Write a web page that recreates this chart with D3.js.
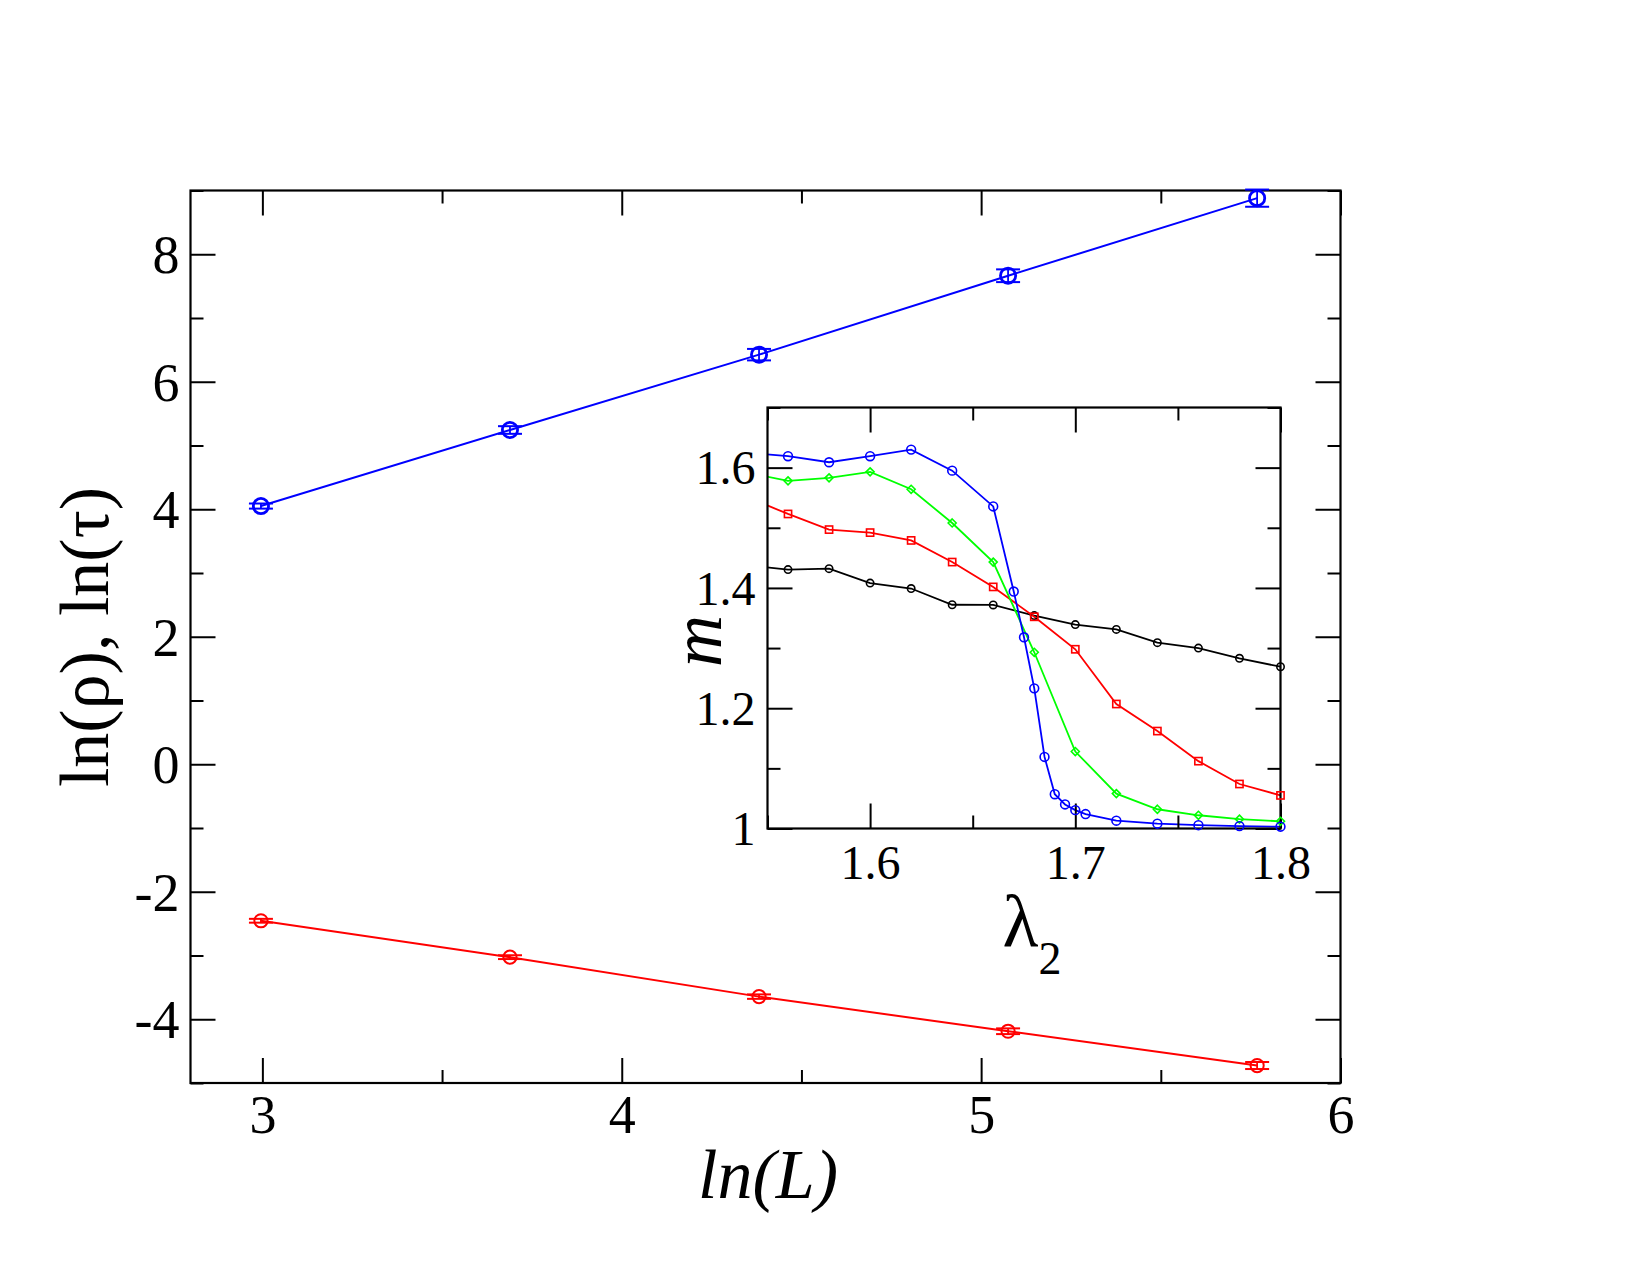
<!DOCTYPE html>
<html>
<head>
<meta charset="utf-8">
<script src="https://cdn.jsdelivr.net/npm/d3@7"></script>
<style>
  html, body { margin: 0; padding: 0; background: #fff; }
  svg { display: block; }
  text { font-family: "Liberation Serif", "Times New Roman", serif; fill: #000; }
</style>
</head>
<body>
<div id="chart"></div>
<script>
// ---------------- data: main panel ----------------
const lnL = [2.996, 3.689, 4.382, 5.075, 5.768];
const lnTau = [4.05, 5.243, 6.425, 7.663, 8.88];
const lnTauErr = [0.04, 0.06, 0.09, 0.10, 0.135];
const lnRho = [-2.455, -3.026, -3.645, -4.188, -4.726];
const lnRhoErr = [0.03, 0.03, 0.035, 0.045, 0.055];
const mainXTicks = [3, 4, 5, 6];
const mainXMinor = [3.5, 4.5, 5.5];
const mainYTicks = [-4, -2, 0, 2, 4, 6, 8];
const mainYMinor = [-5, -3, -1, 1, 3, 5, 7, 9];

// ---------------- data: inset ----------------
const lambdaGrid = [1.54, 1.56, 1.58, 1.60, 1.62, 1.64, 1.66, 1.68, 1.70, 1.72, 1.74, 1.76, 1.78, 1.80];
const mBlack = [1.4375, 1.4305, 1.432, 1.408, 1.399, 1.372, 1.3717, 1.354, 1.339, 1.331, 1.309, 1.300, 1.283, 1.269];
const mRed = [1.551, 1.523, 1.497, 1.492, 1.479, 1.443, 1.4017, 1.352, 1.298, 1.207, 1.162, 1.112, 1.074, 1.055];
const mGreen = [1.592, 1.578, 1.583, 1.593, 1.564, 1.508, 1.443, 1.293, 1.128, 1.058, 1.032, 1.022, 1.0155, 1.012];
const lambdaBlue = [1.54, 1.56, 1.58, 1.60, 1.62, 1.64, 1.66, 1.67, 1.675, 1.68, 1.685, 1.69, 1.695, 1.70, 1.705, 1.72, 1.74, 1.76, 1.78, 1.80];
const mBlue = [1.625, 1.619, 1.609, 1.619, 1.630, 1.595, 1.5355, 1.394, 1.318, 1.233, 1.119, 1.057, 1.040, 1.0305, 1.024, 1.013, 1.008, 1.0055, 1.004, 1.003];
const insetXTicks = [1.6, 1.7, 1.8];
const insetXMinor = [1.55, 1.65, 1.75];
const insetYTicks = [1.0, 1.2, 1.4, 1.6];
const insetYMinor = [1.1, 1.3, 1.5, 1.7];

// ---------------- layout ----------------
const W = 1650, H = 1275;
const M = { left: 190.5, right: 1340.5, top: 190.5, bottom: 1083 };
const I = { left: 767.5, right: 1280.5, top: 407.5, bottom: 828.5 };

const svg = d3.select("#chart").append("svg").attr("width", W).attr("height", H);
svg.append("rect").attr("width", W).attr("height", H).attr("fill", "#fff");

const x = d3.scaleLinear().domain([2.8, 6]).range([M.left, M.right]);
const y = d3.scaleLinear().domain([-5, 9]).range([M.bottom, M.top]);
const xi = d3.scaleLinear().domain([1.55, 1.8]).range([I.left, I.right]);
const yi = d3.scaleLinear().domain([1.0, 1.7]).range([I.bottom, I.top]);

const fmtMain = d => String(d);
const fmtInset = d => (d === 1 ? "1" : d3.format(".1f")(d));

function styleAxis(g) {
  g.select(".domain").remove();
  g.selectAll(".tick line").attr("stroke", "#000").attr("stroke-width", 2);
}

function drawAxes(root, xs, ys, box, opt) {
  const gb = root.append("g").attr("transform", `translate(0,${box.bottom})`)
    .call(d3.axisBottom(xs).tickValues(opt.xMajor).tickSize(-opt.major).tickFormat(opt.fmt));
  styleAxis(gb);
  gb.selectAll(".tick text").attr("font-size", opt.fs).attr("dy", null).attr("y", opt.xLabelY).attr("fill", "#000");
  const gbm = root.append("g").attr("transform", `translate(0,${box.bottom})`)
    .call(d3.axisBottom(xs).tickValues(opt.xMinor).tickSize(-opt.minor).tickFormat(""));
  styleAxis(gbm);
  const gt = root.append("g").attr("transform", `translate(0,${box.top})`)
    .call(d3.axisTop(xs).tickValues(opt.xMajor).tickSize(-opt.major).tickFormat(""));
  styleAxis(gt);
  const gtm = root.append("g").attr("transform", `translate(0,${box.top})`)
    .call(d3.axisTop(xs).tickValues(opt.xMinor).tickSize(-opt.minor).tickFormat(""));
  styleAxis(gtm);
  const gl = root.append("g").attr("transform", `translate(${box.left},0)`)
    .call(d3.axisLeft(ys).tickValues(opt.yMajor).tickSize(-opt.major).tickFormat(opt.fmt));
  styleAxis(gl);
  gl.selectAll(".tick text").attr("font-size", opt.fs).attr("x", -opt.yLabelGap).attr("dy", "0.34em")
    .attr("text-anchor", "end").attr("fill", "#000");
  const glm = root.append("g").attr("transform", `translate(${box.left},0)`)
    .call(d3.axisLeft(ys).tickValues(opt.yMinor).tickSize(-opt.minor).tickFormat(""));
  styleAxis(glm);
  const gr = root.append("g").attr("transform", `translate(${box.right},0)`)
    .call(d3.axisRight(ys).tickValues(opt.yMajor).tickSize(-opt.major).tickFormat(""));
  styleAxis(gr);
  const grm = root.append("g").attr("transform", `translate(${box.right},0)`)
    .call(d3.axisRight(ys).tickValues(opt.yMinor).tickSize(-opt.minor).tickFormat(""));
  styleAxis(grm);
  root.append("rect").attr("x", box.left).attr("y", box.top)
    .attr("width", box.right - box.left).attr("height", box.bottom - box.top)
    .attr("fill", "none").attr("stroke", "#000").attr("stroke-width", 2.2);
}

// ---------------- main panel ----------------
const main = svg.append("g");
drawAxes(main, x, y, M, {
  xMajor: mainXTicks, xMinor: mainXMinor, yMajor: mainYTicks, yMinor: mainYMinor,
  major: 25, minor: 13, fs: 54, fmt: fmtMain, xLabelY: 50, yLabelGap: 11
});

function drawSeriesWithErr(xsArr, ysArr, errArr, color, r, sw) {
  const pts = xsArr.map((d, i) => ({ x: d, y: ysArr[i], e: errArr[i] }));
  main.append("path").datum(pts)
    .attr("d", d3.line().x(d => x(d.x)).y(d => y(d.y)))
    .attr("fill", "none").attr("stroke", color).attr("stroke-width", 2);
  const g = main.append("g").attr("stroke", color).attr("fill", "none");
  pts.forEach(p => {
    g.append("line").attr("x1", x(p.x)).attr("x2", x(p.x)).attr("y1", y(p.y - p.e)).attr("y2", y(p.y + p.e)).attr("stroke-width", 1.8);
    [p.y - p.e, p.y + p.e].forEach(v => {
      g.append("line").attr("x1", x(p.x) - 12).attr("x2", x(p.x) + 12).attr("y1", y(v)).attr("y2", y(v)).attr("stroke-width", 2);
    });
    g.append("circle").attr("cx", x(p.x)).attr("cy", y(p.y)).attr("r", r).attr("stroke-width", sw);
  });
}
drawSeriesWithErr(lnL, lnTau, lnTauErr, "#0000ff", 7.6, 2.8);
drawSeriesWithErr(lnL, lnRho, lnRhoErr, "#ff0000", 6.6, 2);

svg.append("text").attr("x", 768).attr("y", 1198).attr("text-anchor", "middle")
  .attr("font-size", 70).attr("font-style", "italic").text("ln(L)");
svg.append("text").attr("transform", "translate(108,637) rotate(-90)").attr("text-anchor", "middle")
  .attr("font-size", 70).text("ln(ρ), ln(τ)");

// ---------------- inset ----------------
const inset = svg.append("g");
inset.append("rect").attr("x", I.left).attr("y", I.top).attr("width", I.right - I.left).attr("height", I.bottom - I.top).attr("fill", "#fff");
svg.append("clipPath").attr("id", "insetClip").append("rect")
  .attr("x", I.left).attr("y", I.top).attr("width", I.right - I.left).attr("height", I.bottom - I.top);

const lineI = d3.line().x(d => xi(d[0])).y(d => yi(d[1]));
const insetSeries = [
  { lam: lambdaGrid, m: mBlack, color: "#000000", shape: "circle", size: 3.7 },
  { lam: lambdaGrid, m: mRed, color: "#ff0000", shape: "square", size: 3.6 },
  { lam: lambdaGrid, m: mGreen, color: "#00ff00", shape: "diamond", size: 4.0 },
  { lam: lambdaBlue, m: mBlue, color: "#0000ff", shape: "circle", size: 4.4 }
];
const lineLayer = inset.append("g").attr("clip-path", "url(#insetClip)");
insetSeries.forEach(s => {
  const pts = s.lam.map((l, i) => [l, s.m[i]]);
  lineLayer.append("path").datum(pts).attr("d", lineI)
    .attr("fill", "none").attr("stroke", s.color).attr("stroke-width", 1.8);
});

drawAxes(inset, xi, yi, I, {
  xMajor: insetXTicks, xMinor: insetXMinor, yMajor: insetYTicks, yMinor: insetYMinor,
  major: 25, minor: 13, fs: 48, fmt: fmtInset, xLabelY: 50, yLabelGap: 12
});

insetSeries.forEach(s => {
  const pts = s.lam.map((l, i) => [l, s.m[i]]).filter(p => p[0] >= 1.55 - 1e-9);
  const g = inset.append("g").attr("fill", "none").attr("stroke", s.color).attr("stroke-width", 1.6);
  pts.forEach(p => {
    const cx = xi(p[0]), cy = yi(p[1]), r = s.size;
    if (s.shape === "circle") g.append("circle").attr("cx", cx).attr("cy", cy).attr("r", r);
    else if (s.shape === "square") g.append("rect").attr("x", cx - r).attr("y", cy - r).attr("width", 2 * r).attr("height", 2 * r);
    else g.append("path").attr("d", `M${cx},${cy - r}L${cx + r},${cy}L${cx},${cy + r}L${cx - r},${cy}Z`);
  });
});

svg.append("text").attr("transform", "translate(721,641) rotate(-90)").attr("text-anchor", "middle")
  .attr("font-size", 72).attr("font-style", "italic").text("m");
const lt = svg.append("text").attr("x", 1032).attr("y", 946).attr("text-anchor", "middle").attr("font-size", 74);
lt.append("tspan").text("λ");
lt.append("tspan").attr("font-size", 46).attr("dy", 28).text("2");
</script>
</body>
</html>
